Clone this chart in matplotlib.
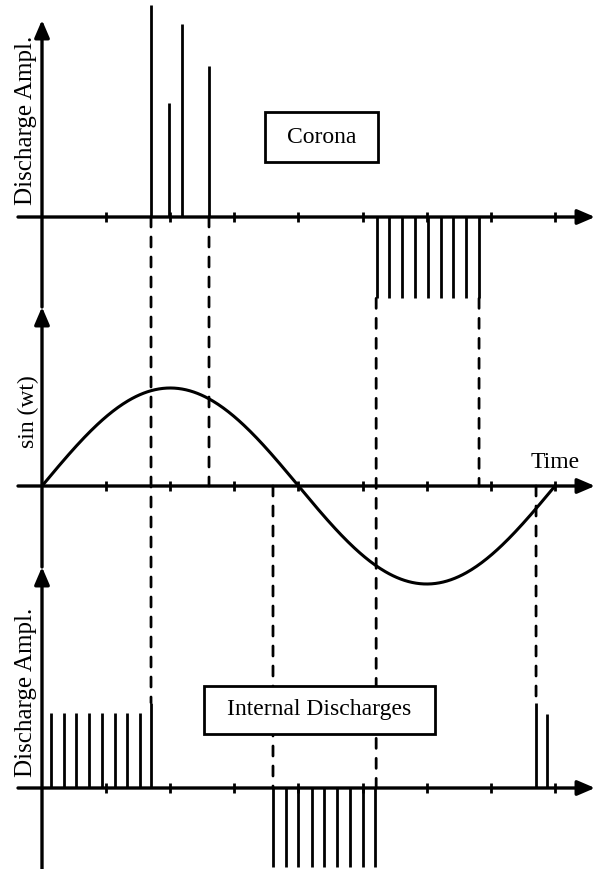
import numpy as np
import matplotlib
matplotlib.use("Agg")
import matplotlib.pyplot as plt
from matplotlib.patches import Rectangle, ConnectionPatch

plt.rcParams['font.family'] = ['Liberation Serif', 'DejaVu Serif']

# phase angles in degrees, amplitudes in units of the sine peak
corona_pos_phase = [76.5, 89.1, 98.2, 117.2]
corona_pos_amp = [2.16, 1.16, 1.97, 1.54]
corona_neg_phase = [235.0, 243.5, 252.6, 261.8, 270.9, 280.0, 288.4, 297.6, 306.7]
corona_neg_amp = [-0.83] * 9

internal_pos_phase = [6.3, 15.4, 23.9, 33.0, 42.1, 51.2, 59.7, 68.8, 76.5]
internal_pos_amp = [0.77, 0.77, 0.77, 0.77, 0.77, 0.77, 0.77, 0.77, 0.87]
internal_neg_phase = [162.1, 171.2, 179.7, 189.5, 197.9, 207.0, 216.2, 225.3, 234.0]
internal_neg_amp = [-0.81] * 9
internal_end_phase = [346.7, 354.4]
internal_end_amp = [0.87, 0.755]

tick_phase = [45, 90, 135, 180, 225, 270, 315, 360]

# dashed guides: phase, (panel, y) start, (panel, y) end
guides = [
    (76.5, ('top', 0.0), ('bot', 0.87)),
    (117.2, ('top', 0.0), ('mid', 0.0)),
    (162.1, ('mid', 0.0), ('bot', 0.0)),
    (234.5, ('top', -0.83), ('bot', 0.0)),
    (306.7, ('top', -0.83), ('mid', 0.0)),
    (346.7, ('mid', 0.0), ('bot', 0.87)),
]

W, H = 598, 869
PX = 98.0            # pixels per amplitude unit
DEG = 360.0 / 513.0  # degrees per pixel
X0 = 42              # pixel of phase 0

fig = plt.figure(figsize=(W / 100, H / 100), dpi=100)

# panel layout in pixels: top edge, bottom edge, baseline
layout = {'top': (0, 307, 217), 'mid': (307, 567, 486), 'bot': (567, 869, 788)}
axes = {}
for name, (t, b, base) in layout.items():
    ax = fig.add_axes([0, (H - b) / H, 1, (b - t) / H])
    ax.set_xlim(-X0 * DEG, (W - X0) * DEG)
    ax.set_ylim(-(b - base) / PX, (base - t) / PX)
    ax.axis('off')
    axes[name] = ax

arrow = dict(arrowstyle='-|>,head_length=0.7,head_width=0.3', lw=2.4, color='k',
             mutation_scale=15, shrinkA=0, shrinkB=0)
x_start = (18 - X0) * DEG
x_tip = (595 - X0) * DEG
vtips = {'top': (217 - 20) / PX, 'mid': (486 - 307) / PX, 'bot': (788 - 567) / PX}

for name, ax in axes.items():
    lo = ax.get_ylim()[0]
    ax.annotate('', xy=(x_tip, 0), xytext=(x_start, 0), arrowprops=arrow,
                annotation_clip=False)
    ax.annotate('', xy=(0, vtips[name]), xytext=(0, lo), arrowprops=arrow,
                annotation_clip=False)
    ax.vlines(tick_phase, -0.05, 0.05, color='k', lw=2)

at, am, ab = axes['top'], axes['mid'], axes['bot']

at.vlines(corona_pos_phase, 0, corona_pos_amp, color='k', lw=2)
at.vlines(corona_neg_phase, 0, corona_neg_amp, color='k', lw=2)
ab.vlines(internal_pos_phase, 0, internal_pos_amp, color='k', lw=2)
ab.vlines(internal_neg_phase, 0, internal_neg_amp, color='k', lw=2)
ab.vlines(internal_end_phase, 0, internal_end_amp, color='k', lw=2)

t = np.linspace(0, 360, 400)
am.plot(t, np.sin(np.radians(t)), color='k', lw=2.2, clip_on=False)

# guides are attached to the last-drawn axes so they sit above everything
for ph, (pa, ya), (pb, yb) in guides:
    con = ConnectionPatch(xyA=(ph, ya), coordsA=axes[pa].transData,
                          xyB=(ph, yb), coordsB=axes[pb].transData,
                          color='k', lw=2, linestyle=(0, (3.6, 3.6)),
                          clip_on=False, zorder=2)
    ab.add_artist(con)

# labelled boxes
at.add_patch(Rectangle((156.5, 0.561), 79.3, 0.51, fc='white', lw=2, ec='k', zorder=3))
at.text(196.2, 0.816, 'Corona', fontsize=17, ha='center', va='center', zorder=4)
ab.add_patch(Rectangle((113.7, 0.551), 162.1, 0.49, fc='white', lw=2, ec='k', zorder=3))
ab.text(194.5, 0.796, 'Internal Discharges', fontsize=17, ha='center', va='center', zorder=4)

am.text(360, 0.24, 'Time', fontsize=17, ha='center', va='center')

at.text(-11.2, 0.99, 'Discharge Ampl.', fontsize=18, rotation=90, ha='center', va='center')
am.text(-9.5, 0.755, 'sin (wt)', fontsize=17, rotation=90, ha='center', va='center')
ab.text(-11.2, 0.98, 'Discharge Ampl.', fontsize=18, rotation=90, ha='center', va='center')

fig.savefig('out.png', dpi=100)
